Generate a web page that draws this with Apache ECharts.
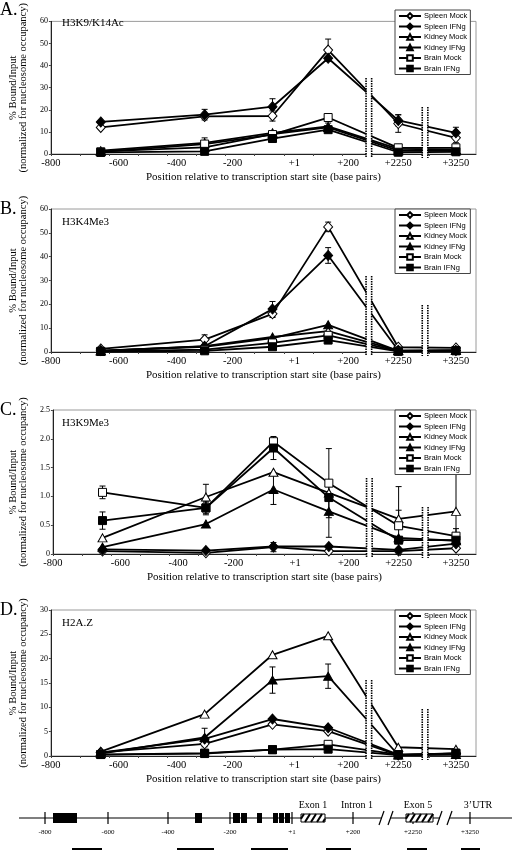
<!DOCTYPE html>
<html><head><meta charset="utf-8">
<script src="https://cdn.jsdelivr.net/npm/echarts@6/dist/echarts.min.js"></script>
<style>html,body{margin:0;padding:0;background:#fff}#c{width:512px;height:851px}</style>
</head><body><div id="c"></div>
<script>
// ---------- data ----------
const positionsBp = [-653, -300, -70, 126, 2250, 3250];
const tickBp = [-800, -600, -400, -200, 1, 200, 2250, 3250];
const tickLabels = ['-800', '-600', '-400', '-200', '+1', '+200', '+2250', '+3250'];
const seriesNames = ['Spleen Mock', 'Spleen IFNg', 'Kidney Mock', 'Kidney IFNg', 'Brain Mock', 'Brain IFNg'];
const panelTitles = ['H3K9/K14Ac', 'H3K4Me3', 'H3K9Me3', 'H2A.Z'];
const panelLetters = ['A.', 'B.', 'C.', 'D.'];
const yMaxes = [60, 60, 2.5, 30];
const yIntervals = [10, 10, 0.5, 5];

// A. H3K9/K14Ac
const acSpleenMock = [12.0, 17.0, 17.2, 47.0, 13.8, 7.3];
const acSpleenIFNg = [14.5, 17.8, 21.4, 43.3, 15.2, 9.6];
const acKidneyMock = [1.5, 5.0, 9.6, 12.5, 2.3, 2.0];
const acKidneyIFNg = [1.2, 3.0, 9.0, 12.0, 1.5, 1.5];
const acBrainMock = [1.0, 4.5, 8.8, 16.5, 2.8, 2.8];
const acBrainIFNg = [0.7, 1.2, 7.0, 11.0, 0.8, 1.0];
const acSpleenMockErr = [0, 0, 2.3, 5.0, 4.0, 2.2];
const acSpleenIFNgErr = [0, 2.4, 3.6, 0, 2.5, 2.5];
const acKidneyMockErr = [0, 0, 0, 0, 0, 0];
const acKidneyIFNgErr = [0, 0, 0, 2.0, 0, 0];
const acBrainMockErr = [0, 2.8, 0, 0, 1.5, 0];
const acBrainIFNgErr = [0, 0, 0, 0, 0, 0];

// B. H3K4Me3
const k4SpleenMock = [1.3, 5.2, 16.0, 52.5, 2.0, 1.7];
const k4SpleenIFNg = [0.6, 2.4, 18.0, 40.5, 0.7, 0.6];
const k4KidneyMock = [0.5, 2.5, 6.3, 8.8, 0.6, 0.8];
const k4KidneyIFNg = [0.5, 2.2, 5.8, 11.4, 0.5, 0.6];
const k4BrainMock = [0.3, 1.0, 3.8, 7.0, 0.4, 0.6];
const k4BrainIFNg = [0.2, 0.5, 2.2, 5.0, 0.3, 0.5];
const k4SpleenMockErr = [0, 2.0, 1.5, 2.0, 0, 0];
const k4SpleenIFNgErr = [0, 0, 3.2, 3.3, 0, 0];
const k4KidneyMockErr = [0, 0, 0, 0, 0, 0];
const k4KidneyIFNgErr = [0, 0, 0, 0, 0, 0];
const k4BrainMockErr = [0, 0, 0, 0, 0, 0];
const k4BrainIFNgErr = [0, 0, 0, 0, 0, 0];

// C. H3K9Me3
const k9SpleenMock = [0.05, 0.02, 0.12, 0.05, 0.05, 0.10];
const k9SpleenIFNg = [0.08, 0.06, 0.13, 0.13, 0.07, 0.18];
const k9KidneyMock = [0.28, 0.99, 1.42, 1.06, 0.61, 0.74];
const k9KidneyIFNg = [0.12, 0.52, 1.12, 0.74, 0.28, 0.23];
const k9BrainMock = [1.07, 0.80, 1.95, 1.23, 0.49, 0.31];
const k9BrainIFNg = [0.58, 0.80, 1.84, 0.98, 0.24, 0.24];
const k9SpleenMockErr = [0, 0, 0.08, 0, 0, 0];
const k9SpleenIFNgErr = [0, 0, 0, 0, 0, 0];
const k9KidneyMockErr = [0, 0.22, 0, 0, 0.15, 0.66];
const k9KidneyIFNgErr = [0, 0, 0.26, 0.45, 0, 0];
const k9BrainMockErr = [0.11, 0.10, 0.05, 0.60, 0.68, 0.13];
const k9BrainIFNgErr = [0.15, 0.12, 0.20, 0, 0.05, 0.06];

// D. H2A.Z
const hzSpleenMock = [0.75, 2.5, 6.5, 5.1, 0.2, 0.35];
const hzSpleenIFNg = [0.7, 3.5, 7.6, 5.8, 0.3, 0.5];
const hzKidneyMock = [0.9, 8.6, 20.8, 24.7, 1.8, 1.4];
const hzKidneyIFNg = [0.5, 3.8, 15.6, 16.4, 0.2, 0.3];
const hzBrainMock = [0.3, 0.6, 1.3, 2.4, 0.3, 0.5];
const hzBrainIFNg = [0.3, 0.5, 1.3, 1.4, 0.2, 0.6];
const hzSpleenMockErr = [0, 0, 0, 0, 0, 0];
const hzSpleenIFNgErr = [0, 0, 0, 0, 0, 0];
const hzKidneyMockErr = [0, 0, 0, 0, 0, 0];
const hzKidneyIFNgErr = [0, 1.9, 2.7, 2.5, 0, 0];
const hzBrainMockErr = [0, 0, 0, 0, 0, 0];
const hzBrainIFNgErr = [0, 0, 0, 0, 0, 0];

const panelValues = [
  [acSpleenMock, acSpleenIFNg, acKidneyMock, acKidneyIFNg, acBrainMock, acBrainIFNg],
  [k4SpleenMock, k4SpleenIFNg, k4KidneyMock, k4KidneyIFNg, k4BrainMock, k4BrainIFNg],
  [k9SpleenMock, k9SpleenIFNg, k9KidneyMock, k9KidneyIFNg, k9BrainMock, k9BrainIFNg],
  [hzSpleenMock, hzSpleenIFNg, hzKidneyMock, hzKidneyIFNg, hzBrainMock, hzBrainIFNg]
];
const panelErrors = [
  [acSpleenMockErr, acSpleenIFNgErr, acKidneyMockErr, acKidneyIFNgErr, acBrainMockErr, acBrainIFNgErr],
  [k4SpleenMockErr, k4SpleenIFNgErr, k4KidneyMockErr, k4KidneyIFNgErr, k4BrainMockErr, k4BrainIFNgErr],
  [k9SpleenMockErr, k9SpleenIFNgErr, k9KidneyMockErr, k9KidneyIFNgErr, k9BrainMockErr, k9BrainIFNgErr],
  [hzSpleenMockErr, hzSpleenIFNgErr, hzKidneyMockErr, hzKidneyIFNgErr, hzBrainMockErr, hzBrainIFNgErr]
];

// ---------- broken axis scale (bp -> axis units) ----------
const axisAnchor = [-800, -567, -368, -176, 36, 221, 393, 591];
const AXIS_MIN = -800, AXIS_MAX = 660;
function toAxis(bp) {
  for (let i = 0; i < tickBp.length - 1; i++) {
    if (bp <= tickBp[i + 1] || i === tickBp.length - 2) {
      const t = (bp - tickBp[i]) / (tickBp[i + 1] - tickBp[i]);
      return axisAnchor[i] + t * (axisAnchor[i + 1] - axisAnchor[i]);
    }
  }
}
const breakCenters = [292, 485];
const breakHeights = [76, 47];

// ---------- styles ----------
const SERIF = 'Liberation Serif';
const SANS = 'Liberation Sans';
const symbols = ['diamond', 'diamond', 'triangle', 'triangle', 'rect', 'rect'];
const symbolSizes = [[9, 10], [9, 10], [9, 8], [9, 8], [8, 8], [8, 8]];
const filled = [false, true, false, true, false, true];
const gridTops = [10, 209, 410, 610];
const gridHeights = [144, 143, 144, 146];
const GRID_LEFT = 49, GRID_RIGHT = 36;

const grids = [], xAxes = [], yAxes = [], series = [], legends = [];
const minorTicks = [];
for (let v = -800; v <= 600; v += 100) minorTicks.push(v);

for (let p = 0; p < 4; p++) {
  grids.push({ left: GRID_LEFT, right: GRID_RIGHT, top: gridTops[p], height: gridHeights[p],
    show: true, borderColor: '#9a9a9a', borderWidth: 1 });
  xAxes.push({
    type: 'value', gridIndex: p, min: AXIS_MIN, max: AXIS_MAX,
    axisLine: { onZero: false, lineStyle: { color: '#222', width: 1 } },
    axisTick: { show: true, customValues: minorTicks, length: 2, lineStyle: { color: '#444' } },
    axisLabel: { customValues: axisAnchor, margin: 4,
      formatter: v => tickLabels[axisAnchor.indexOf(v)] || '',
      fontFamily: SERIF, fontSize: 10.5, color: '#000' },
    splitLine: { show: false },
    name: 'Position relative to transcription start site (base pairs)',
    nameLocation: 'middle', nameGap: 18,
    nameTextStyle: { fontFamily: SERIF, fontSize: 11, color: '#000' }
  });
  yAxes.push({
    type: 'value', gridIndex: p, min: 0, max: yMaxes[p], interval: yIntervals[p],
    axisLine: { show: true, onZero: false, lineStyle: { color: '#222', width: 1 } },
    axisTick: { show: true, length: 2, lineStyle: { color: '#444' } },
    axisLabel: { margin: 3, fontFamily: SERIF, fontSize: 8, color: '#000',
      formatter: v => (p === 2 ? (v === 0 ? '0' : v.toFixed(1)) : String(v)) },
    splitLine: { show: false },
    name: '% Bound/Input\n(normalized for nucleosome occupancy)',
    nameLocation: 'middle', nameGap: 16,
    nameTextStyle: { fontFamily: SERIF, fontSize: 10.5, lineHeight: 10, color: '#000' }
  });
  legends.push({
    data: seriesNames, orient: 'vertical', left: 395, top: gridTops[p],
    itemWidth: 22, itemHeight: 7, itemGap: 2.5, padding: [2, 3, 2, 3],
    borderColor: '#444', borderWidth: 1, backgroundColor: '#fff',
    textStyle: { fontFamily: SANS, fontSize: 7.5, color: '#000', padding: [0, 0, 0, -2] },
    selectedMode: false
  });
  for (let s = 0; s < 6; s++) {
    const vals = panelValues[p][s];
    series.push({
      type: 'line', name: seriesNames[s], xAxisIndex: p, yAxisIndex: p,
      data: positionsBp.map((bp, i) => [toAxis(bp), vals[i]]),
      symbol: symbols[s], symbolSize: symbolSizes[s], showAllSymbol: true,
      lineStyle: { color: '#000', width: 1.8 },
      itemStyle: { color: filled[s] ? '#000' : '#fff', borderColor: '#000', borderWidth: 1 },
      emphasis: { disabled: true }, animation: false, z: 3
    });
    const errs = panelErrors[p][s];
    const errData = [];
    positionsBp.forEach((bp, i) => { if (errs[i] > 0) errData.push([toAxis(bp), vals[i], errs[i]]); });
    if (errData.length) {
      series.push({
        type: 'custom', name: 'err', xAxisIndex: p, yAxisIndex: p, data: errData, z: 2,
        silent: true, animation: false,
        renderItem: (params, api) => {
          const x = api.value(0), y = api.value(1), e = api.value(2);
          const a = api.coord([x, y + e]), b = api.coord([x, Math.max(0, y - e)]);
          const w = 3, st = { stroke: '#000', lineWidth: 1 };
          return { type: 'group', children: [
            { type: 'line', shape: { x1: a[0], y1: a[1], x2: b[0], y2: b[1] }, style: st },
            { type: 'line', shape: { x1: a[0] - w, y1: a[1], x2: a[0] + w, y2: a[1] }, style: st },
            { type: 'line', shape: { x1: b[0] - w, y1: b[1], x2: b[0] + w, y2: b[1] }, style: st }
          ] };
        }
      });
    }
  }
}

// ---------- static graphics ----------
const graphics = [];
for (let p = 0; p < 4; p++) {
  graphics.push({ type: 'text', left: 0, top: gridTops[p] - 9,
    style: { text: panelLetters[p], font: '18px "Liberation Serif"', fill: '#000' } });
  graphics.push({ type: 'text', x: 62, y: gridTops[p] + 13.5,
    style: { text: panelTitles[p], font: '11px "Liberation Serif"', fill: '#000', verticalAlign: 'middle' } });
}

// gene diagram
const GY = 818;
const geneTickX = [45, 108, 168, 230, 292, 353, 413, 470];
graphics.push({ type: 'line', shape: { x1: 19, y1: GY, x2: 512, y2: GY }, style: { stroke: '#000', lineWidth: 1.2 } });
geneTickX.forEach((x, i) => {
  graphics.push({ type: 'line', shape: { x1: x, y1: GY - 6, x2: x, y2: GY + 6 }, style: { stroke: '#000', lineWidth: 1.2 } });
  graphics.push({ type: 'text', x: x, y: GY + 14,
    style: { text: tickLabels[i], font: '7px "Liberation Serif"', fill: '#000', align: 'center', verticalAlign: 'middle' } });
});
[[53, 77], [195, 202], [233, 240], [241, 247], [257, 262], [273, 278], [279, 284], [285, 290]].forEach(([a, b]) => {
  graphics.push({ type: 'rect', shape: { x: a, y: GY - 5, width: b - a, height: 10 }, style: { fill: '#000' } });
});
function hatch(x0, x1) {
  const y0 = GY - 4, y1 = GY + 4;
  graphics.push({ type: 'rect', shape: { x: x0, y: y0, width: x1 - x0, height: y1 - y0 }, style: { fill: '#fff', stroke: '#000', lineWidth: 1 }, z: 5 });
  const dx = 5;
  for (let s = x0 - dx + 3; s < x1; s += 6) {
    let xa = s, ya = y1, xb = s + dx, yb = y0;
    if (xa < x0) { ya = y1 - (x0 - xa) / dx * (y1 - y0); xa = x0; }
    if (xb > x1) { yb = y1 - (x1 - s) / dx * (y1 - y0); xb = x1; }
    graphics.push({ type: 'line', shape: { x1: xa, y1: ya, x2: xb, y2: yb }, style: { stroke: '#000', lineWidth: 2 }, z: 6 });
  }
}
hatch(301, 325);
hatch(406, 433);
[[379, 393], [437, 452]].forEach(([a, b]) => {
  graphics.push({ type: 'rect', shape: { x: a + 3, y: GY - 2, width: b - a - 6, height: 4 }, style: { fill: '#fff' }, z: 5 });
  graphics.push({ type: 'line', shape: { x1: a, y1: GY + 7, x2: a + 5, y2: GY - 7 }, style: { stroke: '#000', lineWidth: 1.2 }, z: 6 });
  graphics.push({ type: 'line', shape: { x1: b - 5, y1: GY + 7, x2: b, y2: GY - 7 }, style: { stroke: '#000', lineWidth: 1.2 }, z: 6 });
});
[['Exon 1', 313], ['Intron 1', 357], ['Exon 5', 418], ['3\u2019UTR', 478]].forEach(([t, x]) => {
  graphics.push({ type: 'text', x: x, y: 805,
    style: { text: t, font: '10px "Liberation Serif"', fill: '#000', align: 'center', verticalAlign: 'middle' } });
});
[[72, 102], [177, 214], [251, 288], [326, 351], [407, 427], [461, 480]].forEach(([a, b]) => {
  graphics.push({ type: 'rect', shape: { x: a, y: 848, width: b - a, height: 2 }, style: { fill: '#000' } });
});

const chart = echarts.init(document.getElementById('c'), null, { renderer: 'canvas' });
chart.setOption({
  animation: false, backgroundColor: '#fff',
  grid: grids, xAxis: xAxes, yAxis: yAxes, series: series, legend: legends, graphic: graphics
});

// axis breaks drawn at library-computed pixel positions
for (let p = 0; p < 4; p++) {
  const yBase = chart.convertToPixel({ yAxisIndex: p }, 0);
  breakCenters.forEach((c, k) => {
    const xc = chart.convertToPixel({ xAxisIndex: p }, c);
    const top = yBase - breakHeights[k], bot = yBase + 4;
    graphics.push({ type: 'rect', shape: { x: xc - 2.5, y: top, width: 5, height: bot - top }, style: { fill: '#fff' }, z: 20 });
    [xc - 2.8, xc + 2.8].forEach(x => {
      graphics.push({ type: 'line', shape: { x1: x, y1: top, x2: x, y2: bot },
        style: { stroke: '#000', lineWidth: 1.6, lineDash: [1.5, 1] }, z: 21 });
    });
  });
}
chart.setOption({ graphic: graphics });
</script>
</body></html>
